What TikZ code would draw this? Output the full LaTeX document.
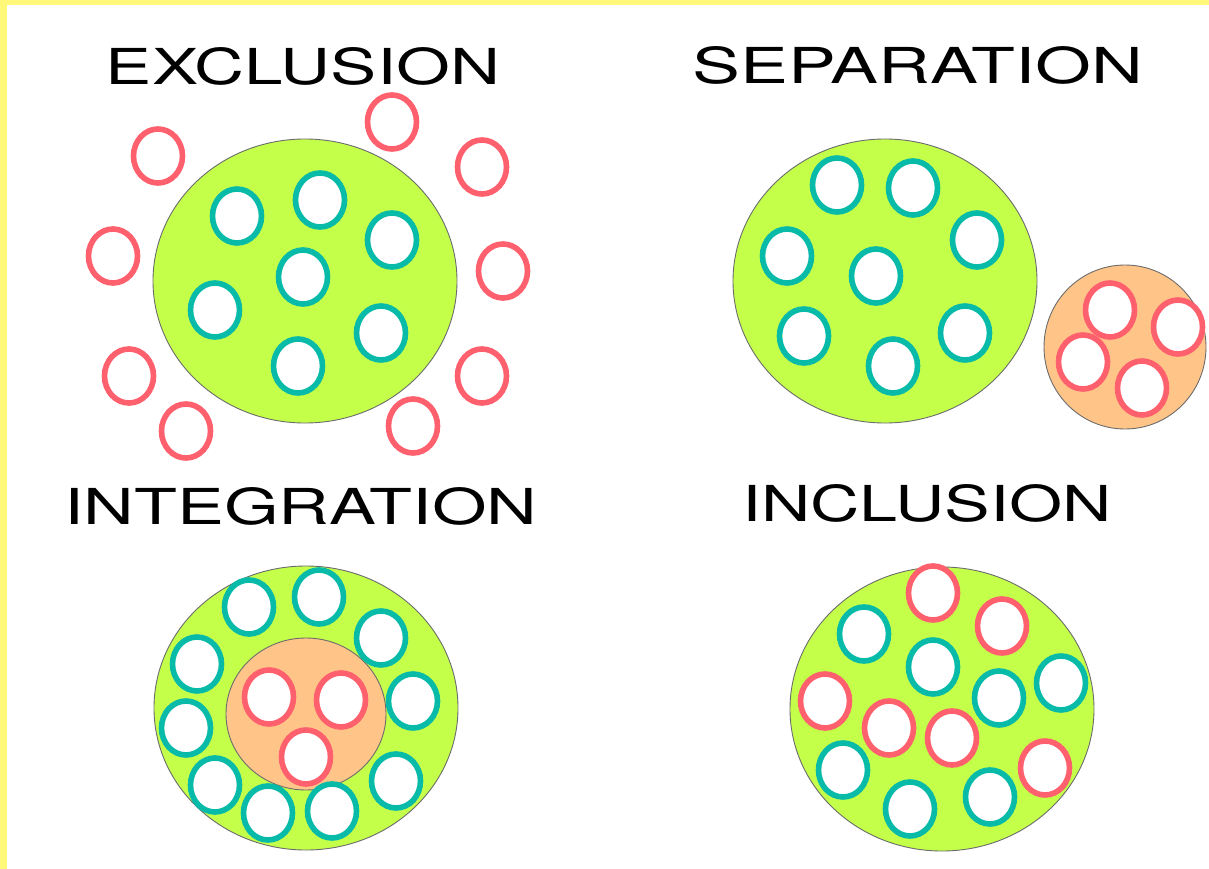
\documentclass[tikz,border=0pt]{standalone}
\usepackage{fontspec}
\setsansfont{TeX Gyre Heros}
\usepackage{tikz}
\usetikzlibrary{shapes.geometric}
\definecolor{limegreen}{RGB}{196,255,74}
\definecolor{ringteal}{RGB}{8,186,168}
\definecolor{ringred}{RGB}{255,96,110}
\definecolor{peach}{RGB}{255,196,136}
\definecolor{frameyellow}{RGB}{255,248,120}
\newcommand{\titleword}[2]{\resizebox{#1}{37pt}{\sffamily #2}}

\begin{document}
\begin{tikzpicture}[
    x=1pt, y=-1pt,
    every node/.style={inner sep=0pt, outer sep=0pt},
    groupdisc/.style={ellipse, draw=gray!85!black, line width=0.9pt, fill=limegreen,
                 minimum width=304pt, minimum height=284pt},
    coredisc/.style={ellipse, draw=gray!85!black, line width=0.9pt, fill=peach},
    tealring/.style={ellipse, draw=ringteal, line width=5.6pt, fill=white,
                 minimum width=49pt, minimum height=54pt},
    redring/.style={tealring, draw=ringred},
    titletext/.style={anchor=center, text=black},
]
\useasboundingbox (0,0) rectangle (1209,869);
\fill[frameyellow] (0,0) rectangle (1209,869);
\fill[white] (7,5) rectangle (1209,869);

% Titles
\node[titletext] (t-excl) at (303,66)  {\titleword{394pt}{EXCLUSION}};
\node[titletext] (t-sep)  at (918,65)  {\titleword{450pt}{SEPARATION}};
\node[titletext] (t-int)  at (301,506) {\titleword{473pt}{INTEGRATION}};
\node[titletext] (t-incl) at (927,503) {\titleword{369pt}{INCLUSION}};

% Exclusion
\node[groupdisc] (ex-disc) at (305,281) {};
\foreach \p [count=\i] in {(237,216),(320,200),(392,240),(303,277),(215,310),(381,333),(298,366)}
  \node[tealring] (ex-t\i) at \p {};
\foreach \p [count=\i] in {(158,156),(392,122),(482,167),(113,256),(503,271),(129,376),(482,376),(186,431),(413,426)}
  \node[redring] (ex-r\i) at \p {};

% Separation
\node[groupdisc] (sep-disc) at (885,281) {};
\foreach \p [count=\i] in {(837,185),(913,188),(977,240),(787,256),(876,276),(804,336),(965,333),(893,366)}
  \node[tealring] (sep-t\i) at \p {};
\node[coredisc, minimum width=162pt, minimum height=164pt] (sep-core) at (1125,347) {};
\foreach \p [count=\i] in {(1110,310),(1178,327),(1142,388),(1083,362)}
  \node[redring] (sep-r\i) at \p {};

% Integration
\node[groupdisc] (int-disc) at (306,708) {};
\node[coredisc, minimum width=160pt, minimum height=152pt] (int-core) at (306,714) {};
\foreach \p [count=\i] in {(249,607),(319,597),(381,638),(197,664),(413,701),(186,728),(215,785),(396,781),(268,813),(332,811)}
  \node[tealring] (int-t\i) at \p {};
\foreach \p [count=\i] in {(269,697),(341,700),(306,757)}
  \node[redring] (int-r\i) at \p {};

% Inclusion
\node[groupdisc] (inc-disc) at (942,709) {};
\foreach \p [count=\i] in {(864,634),(933,667),(999,698),(1061,683),(843,770),(910,809),(990,797)}
  \node[tealring] (inc-t\i) at \p {};
\foreach \p [count=\i] in {(933,593),(1002,626),(825,701),(889,728),(952,738),(1045,768)}
  \node[redring] (inc-r\i) at \p {};

\end{tikzpicture}
\end{document}
